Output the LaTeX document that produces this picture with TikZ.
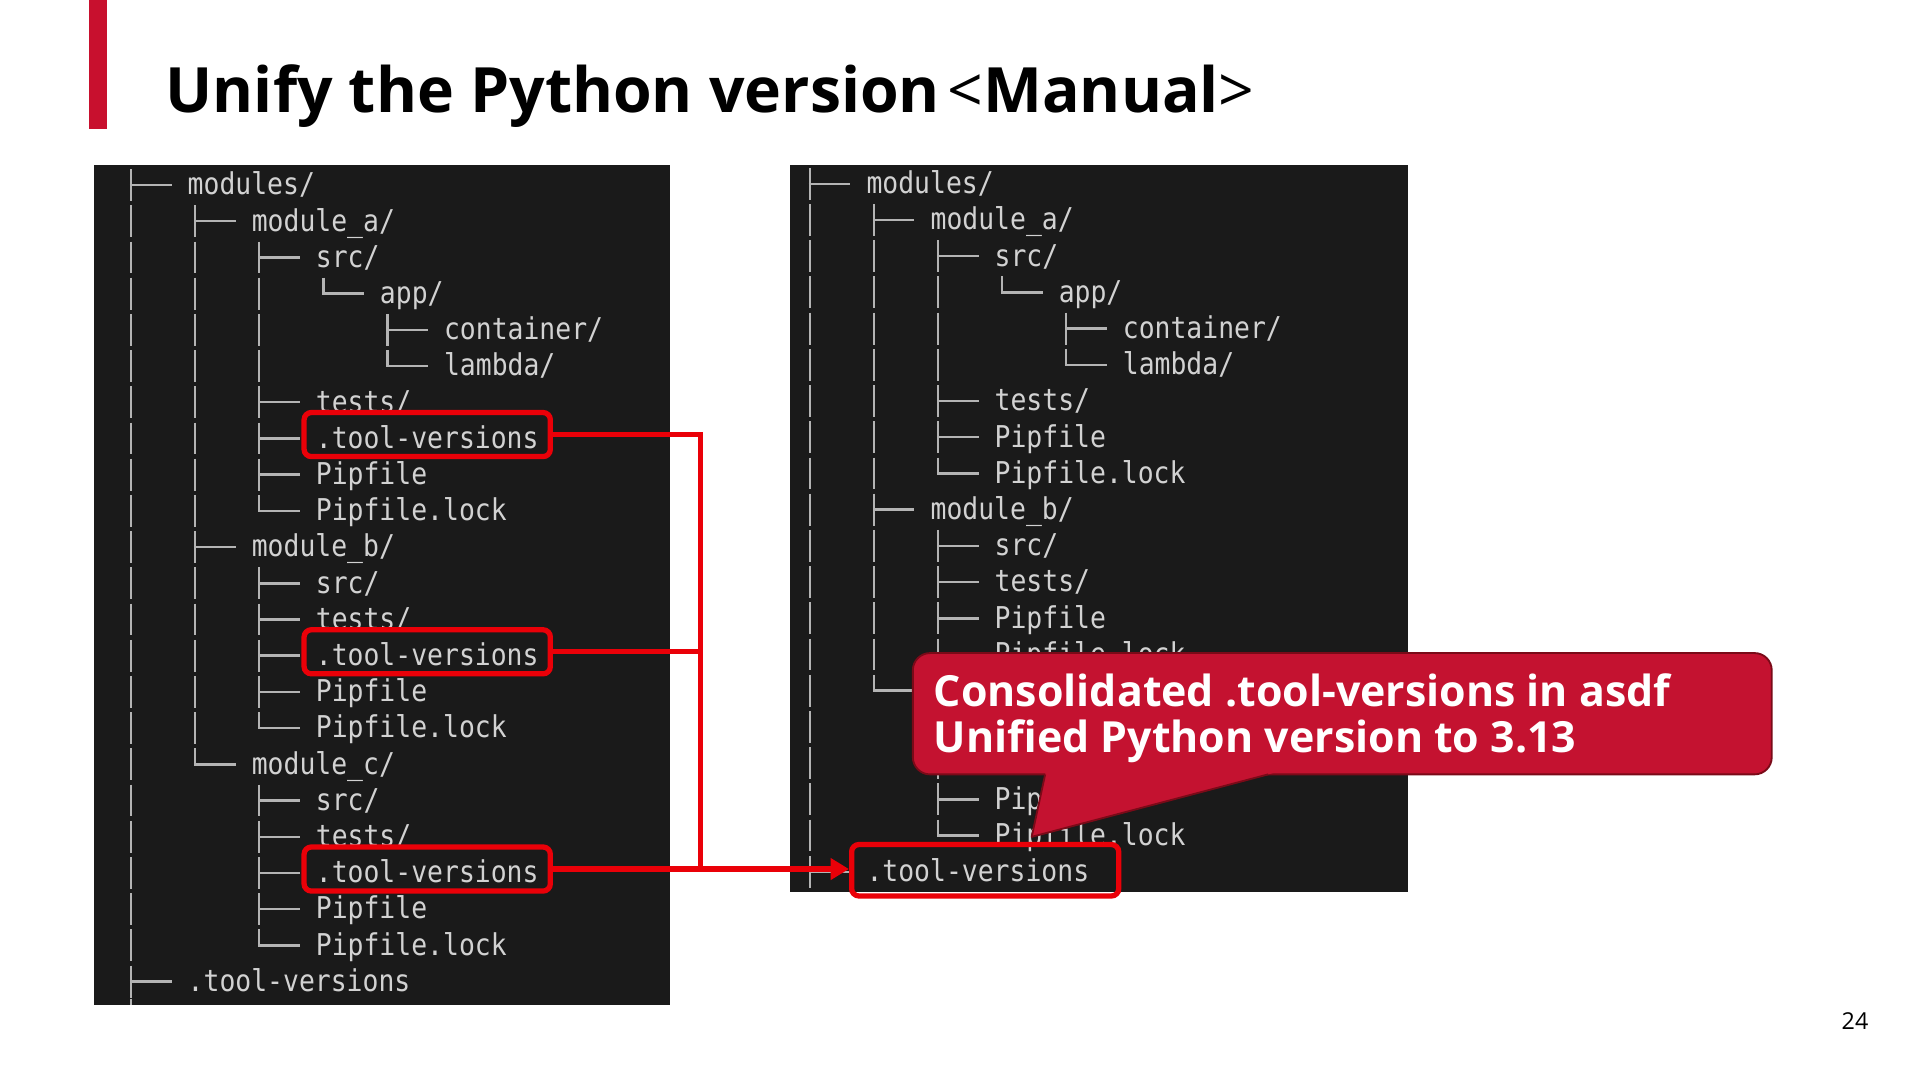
\documentclass[tikz,border=0pt]{standalone}
\usepackage{fontspec}
\setmainfont{Open Sans}
\newfontfamily\treefont[FakeStretch=0.88]{DejaVu Sans Mono}
\usetikzlibrary{arrows.meta}
\definecolor{crimson}{HTML}{C8102E}
\definecolor{panelbg}{HTML}{1A1A1A}
\definecolor{treefg}{HTML}{D2D2D2}
\definecolor{treeln}{HTML}{B4B4B4}
\definecolor{boxred}{HTML}{EA0008}
\definecolor{calloutfill}{HTML}{C41230}
\definecolor{calloutedge}{HTML}{7A0A18}
\newcommand\trow[8]{%
  \pgfmathsetmacro\yy{#3+29.55*#4}%
  \pgfmathsetmacro\vx{#2+52.3*#5}%
  \foreach \j in {0,1,2,3}{\ifnum\j<#7\relax
    \draw[treeline] ({#2+52.3*\j},{\yy-13}) -- ({#2+52.3*\j},{\yy+13});\fi}%
  \draw[treeline] (\vx,{\yy-13}) -- (\vx,{\yy+13*#6});%
  \draw[treeline] ({\vx-1},\yy) -- ({\vx+33},\yy);%
  \node[treetext] (#1#4) at ({\vx+46},{\yy+8}) {#8};%
}
\begin{document}
\begin{tikzpicture}[x=1pt,y=-1pt,
  treetext/.style={font=\treefont\fontsize{24.5}{26}\selectfont, text=treefg, inner sep=0pt, anchor=base west},
  treeline/.style={draw=treeln, line width=2pt},
  redbox/.style={draw=boxred, line width=4.3pt, rounded corners=6pt, inner sep=0pt, minimum width=201pt, minimum height=36pt},
  redline/.style={draw=boxred, line width=4.2pt},
  calloutrect/.style={fill=calloutfill, draw=calloutedge, line width=1.5pt, rounded corners=14pt, minimum width=701pt, minimum height=99pt, inner sep=0pt},
  callouttext/.style={text=white, font=\bfseries\fontsize{35}{37}\selectfont, inner sep=0pt, anchor=base west},
]
\useasboundingbox (0,0) rectangle (1567,881.5);
\fill[white] (0,0) rectangle (1567,881.5);

% title
\fill[crimson] (73,0) rectangle (87,105);
\node[anchor=base west, inner sep=0pt, font=\bfseries\fontsize{51}{51}\selectfont] (title) at (135,92)
  {Unify the Python version\hspace{0.12em}{\mdseries<}Manual{\mdseries>}};

% panels
\fill[panelbg] (77,135) rectangle (547,820);
\fill[panelbg] (645,135) rectangle (1149,728);

% left tree
\trow{L}{107}{151}{0}{0}{1}{0}{modules/}
\trow{L}{107}{151}{1}{1}{1}{1}{module\_a/}
\trow{L}{107}{151}{2}{2}{1}{2}{src/}
\trow{L}{107}{151}{3}{3}{0}{3}{app/}
\trow{L}{107}{151}{4}{4}{1}{3}{container/}
\trow{L}{107}{151}{5}{4}{0}{3}{lambda/}
\trow{L}{107}{151}{6}{2}{1}{2}{tests/}
\trow{L}{107}{151}{7}{2}{1}{2}{.tool-versions}
\trow{L}{107}{151}{8}{2}{1}{2}{Pipfile}
\trow{L}{107}{151}{9}{2}{0}{2}{Pipfile.lock}
\trow{L}{107}{151}{10}{1}{1}{1}{module\_b/}
\trow{L}{107}{151}{11}{2}{1}{2}{src/}
\trow{L}{107}{151}{12}{2}{1}{2}{tests/}
\trow{L}{107}{151}{13}{2}{1}{2}{.tool-versions}
\trow{L}{107}{151}{14}{2}{1}{2}{Pipfile}
\trow{L}{107}{151}{15}{2}{0}{2}{Pipfile.lock}
\trow{L}{107}{151}{16}{1}{0}{1}{module\_c/}
\trow{L}{107}{151}{17}{2}{1}{1}{src/}
\trow{L}{107}{151}{18}{2}{1}{1}{tests/}
\trow{L}{107}{151}{19}{2}{1}{1}{.tool-versions}
\trow{L}{107}{151}{20}{2}{1}{1}{Pipfile}
\trow{L}{107}{151}{21}{2}{0}{1}{Pipfile.lock}
\trow{L}{107}{151}{22}{0}{1}{0}{.tool-versions}
\draw[treeline] (107,815) -- (107,820);

% right tree
\trow{R}{661}{150}{0}{0}{1}{0}{modules/}
\trow{R}{661}{150}{1}{1}{1}{1}{module\_a/}
\trow{R}{661}{150}{2}{2}{1}{2}{src/}
\trow{R}{661}{150}{3}{3}{0}{3}{app/}
\trow{R}{661}{150}{4}{4}{1}{3}{container/}
\trow{R}{661}{150}{5}{4}{0}{3}{lambda/}
\trow{R}{661}{150}{6}{2}{1}{2}{tests/}
\trow{R}{661}{150}{7}{2}{1}{2}{Pipfile}
\trow{R}{661}{150}{8}{2}{0}{2}{Pipfile.lock}
\trow{R}{661}{150}{9}{1}{1}{1}{module\_b/}
\trow{R}{661}{150}{10}{2}{1}{2}{src/}
\trow{R}{661}{150}{11}{2}{1}{2}{tests/}
\trow{R}{661}{150}{12}{2}{1}{2}{Pipfile}
\trow{R}{661}{150}{13}{2}{0}{2}{Pipfile.lock}
\trow{R}{661}{150}{14}{1}{0}{1}{module\_c/}
\trow{R}{661}{150}{15}{2}{1}{1}{src/}
\trow{R}{661}{150}{16}{2}{1}{1}{tests/}
\trow{R}{661}{150}{17}{2}{1}{1}{Pipfile}
\trow{R}{661}{150}{18}{2}{0}{1}{Pipfile.lock}
\trow{R}{661}{150}{19}{0}{1}{0}{.tool-versions}

% red highlight boxes
\node[redbox, yshift=2pt] (B1) at (L7.center) {};
\node[redbox, yshift=2pt] (B2) at (L13.center) {};
\node[redbox, yshift=2pt] (B3) at (L19.center) {};
\node[redbox, minimum width=218pt, minimum height=42pt, xshift=6pt] (B4) at (R19.center) {};

% connectors
\coordinate (J) at (572,0);
\draw[redline] (B1.east) -- (B1.east -| J) -- (B3.east -| J);
\draw[redline] (B2.east) -- (B2.east -| J);
\draw[redline] (B3.east) -- (B3.east -| J);
\draw[redline, -{Triangle[length=15pt,width=17pt]}] (B3.east -| J) -- (B3.east -| B4.west);

% callout
\node[calloutrect] (CO) at (1095.5,582.5) {};
\fill[calloutfill] (853.4,630) -- (1042.6,630) -- (842,683) -- cycle;
\draw[calloutedge, line width=1.5pt, line join=round] (853,632) -- (842,683) -- (1035,632);
\node[callouttext] (CO1) at (762,577) {Consolidated .tool-versions in asdf};
\node[callouttext] (CO2) at (762,614) {Unified Python version to 3.13};

% page number
\node[anchor=base east, inner sep=0pt, font=\fontsize{19}{19}\selectfont] (pg) at (1525,840) {24};
\end{tikzpicture}
\end{document}
